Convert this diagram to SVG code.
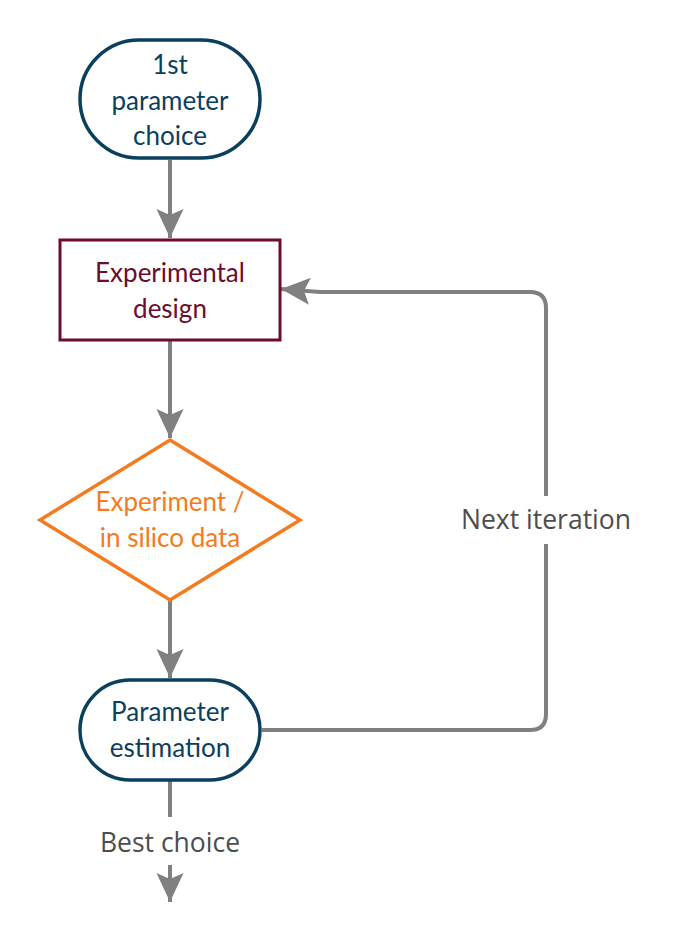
<svg xmlns="http://www.w3.org/2000/svg" width="673" height="942" viewBox="0 0 673 942">
<style>
.t{font-family:Lato,"Open Sans","Liberation Sans",sans-serif;font-size:26px;text-anchor:middle}
.blue{fill:#fff;stroke:#0b3f5e;stroke-width:3.5}
.bt{fill:#0b3f5e}
.c{fill:none;stroke:#808080;stroke-width:4}
.lbl{font-family:"Open Sans","Liberation Sans",sans-serif;font-size:26.5px;text-anchor:middle;fill:#4d4d4d}
</style>
<defs>
<marker id="ah" markerUnits="userSpaceOnUse" viewBox="0 0 32 32" refX="30" refY="16" markerWidth="32" markerHeight="32" orient="auto">
<path d="M30,16 L1,2.5 L7,16 L1,29.5 Z" fill="#808080"/>
</marker>
</defs>
<rect width="673" height="942" fill="#fff"/>
<g id="connectors">
<path class="c" d="M170,160 L170,238" marker-end="url(#ah)"/>
<path class="c" d="M170,341 L170,438" marker-end="url(#ah)"/>
<path class="c" d="M170,600 L170,678" marker-end="url(#ah)"/>
<path class="c" d="M170,781 L170,817"/>
<path class="c" d="M170,865 L170,902" marker-end="url(#ah)"/>
<path class="c" d="M262,730 L530,730 Q546,730 546,714 L546,544 M546,496 L546,308 Q546,292 530,292 L320,292 L281,289" marker-end="url(#ah)"/>
<text class="lbl" x="546" y="529">Next iteration</text>
<text class="lbl" x="170" y="852">Best choice</text>
</g>
<g id="start">
<rect class="blue" x="80" y="40" width="180" height="118" rx="59" ry="59"/>
<text class="t bt" x="170" y="74">1st</text>
<text class="t bt" x="170" y="110">parameter</text>
<text class="t bt" x="170" y="145">choice</text>
</g>
<g id="design">
<rect x="60" y="240" width="220" height="100" fill="#fff" stroke="#6b0d2c" stroke-width="3"/>
<text class="t" fill="#6b0d2c" x="170" y="282">Experimental</text>
<text class="t" fill="#6b0d2c" x="170" y="318">design</text>
</g>
<g id="experiment">
<polygon points="170,440 300,520 170,600 40,520" fill="#fff" stroke="#f47b20" stroke-width="3.5"/>
<text class="t" fill="#f47b20" x="170" y="511">Experiment /</text>
<text class="t" fill="#f47b20" x="170" y="547">in silico data</text>
</g>
<g id="estimation">
<rect class="blue" x="80" y="680" width="180" height="100" rx="50" ry="50"/>
<text class="t bt" x="170" y="721">Parameter</text>
<text class="t bt" x="170" y="757">estimation</text>
</g>
</svg>
